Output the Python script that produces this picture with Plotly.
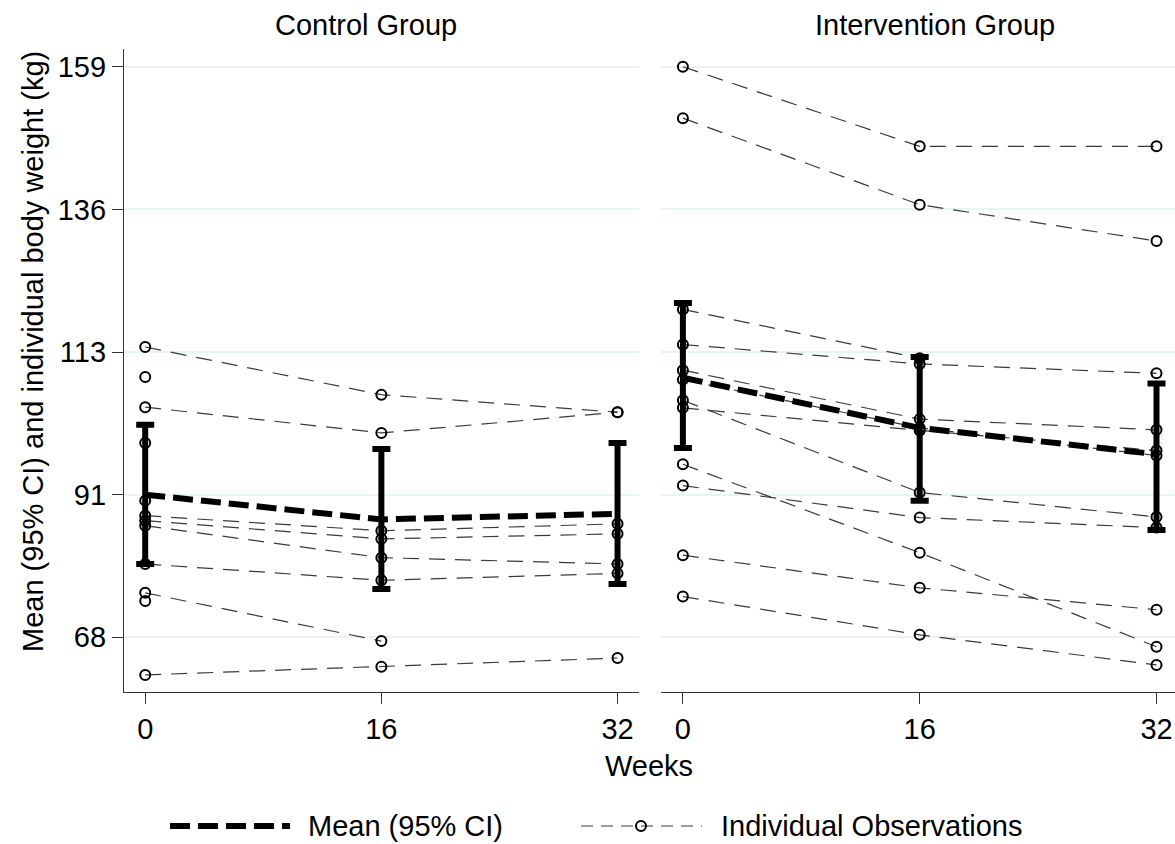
import plotly.graph_objects as go

# ---------------- data ----------------
weeks = [0, 16, 32]
week_labels = ["0", "16", "32"]

# Control group: individual body weights (kg) at weeks 0, 16, 32 (None = missing)
ctrl_w0 = [114.3, 109.5, 104.7, 99.0, 89.8, 87.4, 86.6, 85.8, 79.7, 75.1, 73.8, 62.0]
ctrl_w16 = [106.7, None, 100.6, None, None, 85.0, 83.7, 80.7, 77.1, 67.4, None, 63.3]
ctrl_w32 = [103.9, None, 103.9, None, None, 86.1, 84.5, 79.7, 78.2, None, None, 64.7]

# Intervention group
int_w0 = [159.0, 150.8, 120.3, 114.7, 110.6, 109.1, 105.8, 104.6, 95.6, 92.2, 81.1, 74.5]
int_w16 = [146.3, 137.0, 112.5, 111.6, 102.8, 101.4, 91.1, 101.0, 81.5, 87.1, 75.9, 68.4]
int_w32 = [146.3, 131.2, None, 110.1, 101.1, 97.0, 87.2, 97.8, 66.5, 85.5, 72.4, 63.6]

# Means with 95% CI
ctrl_mean = [90.75, 86.8, 87.7]
ctrl_lo = [79.7, 75.7, 76.5]
ctrl_hi = [101.9, 98.05, 99.0]

int_mean = [109.4, 101.4, 97.2]
int_lo = [98.2, 89.8, 85.1]
int_hi = [121.3, 112.7, 108.5]

y_ticks = [68, 90.75, 113.5, 136.25, 159]
y_tick_labels = ["68", "91", "113", "136", "159"]

# ---------------- figure ----------------
W, H = 1175, 844
FONT = "Liberation Sans, Arial, Helvetica, sans-serif"
FS = 29
IND_COLOR = "#3a3a3a"

fig = go.Figure()


def add_group(w0, w16, w32, mean, lo, hi, xa, ya):
    for a, b, c in zip(w0, w16, w32):
        fig.add_trace(go.Scatter(
            x=weeks, y=[a, b, c], xaxis=xa, yaxis=ya,
            mode="lines+markers", connectgaps=False, showlegend=False,
            line=dict(color=IND_COLOR, width=1.2, dash="16px,10px"),
            marker=dict(symbol="circle-open", size=10, color="black",
                        line=dict(width=2, color="black")),
            hoverinfo="x+y"))
    fig.add_trace(go.Scatter(
        x=weeks, y=mean, xaxis=xa, yaxis=ya, mode="lines", showlegend=False,
        line=dict(color="black", width=6, dash="20px,8px"),
        error_y=dict(type="data", symmetric=False,
                     array=[h - m for h, m in zip(hi, mean)],
                     arrayminus=[m - l for m, l in zip(mean, lo)],
                     color="black", thickness=6, width=9)))


add_group(ctrl_w0, ctrl_w16, ctrl_w32, ctrl_mean, ctrl_lo, ctrl_hi, "x", "y")
add_group(int_w0, int_w16, int_w32, int_mean, int_lo, int_hi, "x2", "y2")


def px(x):
    return x / W


def py(y):
    return 1 - y / H


y_dom = [py(692), py(49.3)]
y_rng = [59.28, 161.78]
grid = "rgb(234,242,243)"
axis_common = dict(showline=True, linecolor="#333333", linewidth=1.3,
                   ticks="outside", ticklen=11, tickwidth=1.3, tickcolor="#333333",
                   zeroline=False,
                   tickfont=dict(family=FONT, size=FS, color="black"))

fig.update_layout(
    width=W, height=H,
    margin=dict(l=0, r=0, t=0, b=0),
    paper_bgcolor="white", plot_bgcolor="white",
    showlegend=False,
    font=dict(family=FONT, size=FS, color="black"),
    xaxis=dict(domain=[px(124), px(638.5)], range=[-1.436, 33.42],
               tickvals=weeks, ticktext=week_labels, showgrid=False,
               anchor="y", **axis_common),
    xaxis2=dict(domain=[px(660.5), 1.0], range=[-1.513, 33.25],
                tickvals=weeks, ticktext=week_labels, showgrid=False,
                anchor="y2", **axis_common),
    yaxis=dict(domain=y_dom, range=y_rng, tickvals=y_ticks, ticktext=y_tick_labels,
               showgrid=True, gridcolor=grid, gridwidth=2, anchor="x",
               **axis_common),
    yaxis2=dict(domain=y_dom, range=y_rng, tickvals=y_ticks, showticklabels=False,
                showgrid=True, gridcolor=grid, gridwidth=2, showline=False,
                ticks="", zeroline=False, anchor="x2"),
)

ann = []


def text(x, y, s, xanchor="center", angle=0):
    ann.append(dict(x=px(x), y=py(y), xref="paper", yref="paper", text=s,
                    showarrow=False, xanchor=xanchor, yanchor="middle",
                    textangle=angle,
                    font=dict(family=FONT, size=FS, color="black")))


text(366, 25, "Control Group")
text(935, 25, "Intervention Group")
text(649, 766, "Weeks")
text(33, 352, "Mean (95% CI) and individual body weight (kg)", angle=-90)
text(306, 826, "Mean (95% CI)", xanchor="left")
text(719, 826, "Individual Observations", xanchor="left")
fig.update_layout(annotations=ann)

# legend keys
fig.add_shape(type="line", xref="paper", yref="paper",
              x0=px(170), x1=px(290), y0=py(826), y1=py(826),
              line=dict(color="black", width=6, dash="20px,8px"))
fig.add_shape(type="line", xref="paper", yref="paper",
              x0=px(581), x1=px(702), y0=py(826), y1=py(826),
              line=dict(color=IND_COLOR, width=1.2, dash="12px,8px"))
fig.add_shape(type="circle", xref="paper", yref="paper",
              x0=px(636), x1=px(646), y0=py(821), y1=py(831),
              line=dict(color="black", width=2))

fig.write_html("out.html",
               config={"displayModeBar": False},
               post_script="document.body.style.margin='0';document.body.style.overflow='hidden';")
